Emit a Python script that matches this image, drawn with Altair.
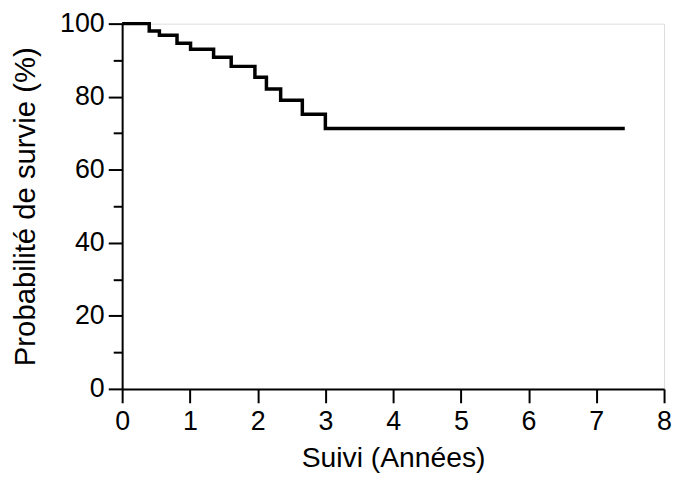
import altair as alt
import pandas as pd

# Kaplan-Meier style survival curve
suivi_annees = [0.0, 0.40, 0.55, 0.81, 1.01, 1.35, 1.61, 1.96, 2.13, 2.34, 2.66, 3.00, 7.42]
survie_pct = [100.0, 98.0, 96.8, 94.6, 93.0, 90.8, 88.3, 85.3, 82.1, 79.0, 75.2, 71.3, 71.3]

x_ticks = [0, 1, 2, 3, 4, 5, 6, 7, 8]
y_ticks = [0, 10, 20, 30, 40, 50, 60, 70, 80, 90, 100]

df = pd.DataFrame({"t": suivi_annees, "s": survie_pct})

FONT = "Arial"

chart = (
    alt.Chart(df)
    .mark_line(interpolate="step-after", color="black", strokeWidth=3.5, strokeCap="butt")
    .encode(
        x=alt.X(
            "t:Q",
            scale=alt.Scale(domain=[0, 8], nice=False, zero=False),
            axis=alt.Axis(
                title="Suivi (Années)",
                values=x_ticks,
                grid=False,
                domainColor="black",
                domainWidth=2,
                tickColor="black",
                tickWidth=2,
                tickSize=14,
                labelFont=FONT,
                labelFontSize=27,
                labelColor="black",
                labelPadding=6,
                titleFont=FONT,
                titleFontSize=28.5,
                titleFontWeight="normal",
                titleColor="black",
                titlePadding=9,
                labelFlush=False,
            ),
        ),
        y=alt.Y(
            "s:Q",
            scale=alt.Scale(domain=[0, 100], nice=False, zero=False),
            axis=alt.Axis(
                title="Probabilité de survie (%)",
                values=y_ticks,
                labelExpr="datum.value % 20 === 0 ? datum.label : ''",
                grid=False,
                domainColor="black",
                domainWidth=2,
                tickColor="black",
                tickWidth=2,
                tickSize={"condition": {"test": "datum.value % 20 === 0", "value": 14}, "value": 9},
                labelFont=FONT,
                labelFontSize=27,
                labelColor="black",
                labelPadding=4,
                titleFont=FONT,
                titleFontSize=29.5,
                titleFontWeight="normal",
                titleColor="black",
                titlePadding=19,
                labelFlush=False,
            ),
        ),
    )
    .properties(width=546, height=368, padding={"left": 2, "top": 0, "right": 0, "bottom": 0})
    .configure_view(strokeWidth=0, stroke="transparent")
    .configure(background="white")
)

chart.save("out.html", embed_options={"renderer": "svg", "actions": False})
